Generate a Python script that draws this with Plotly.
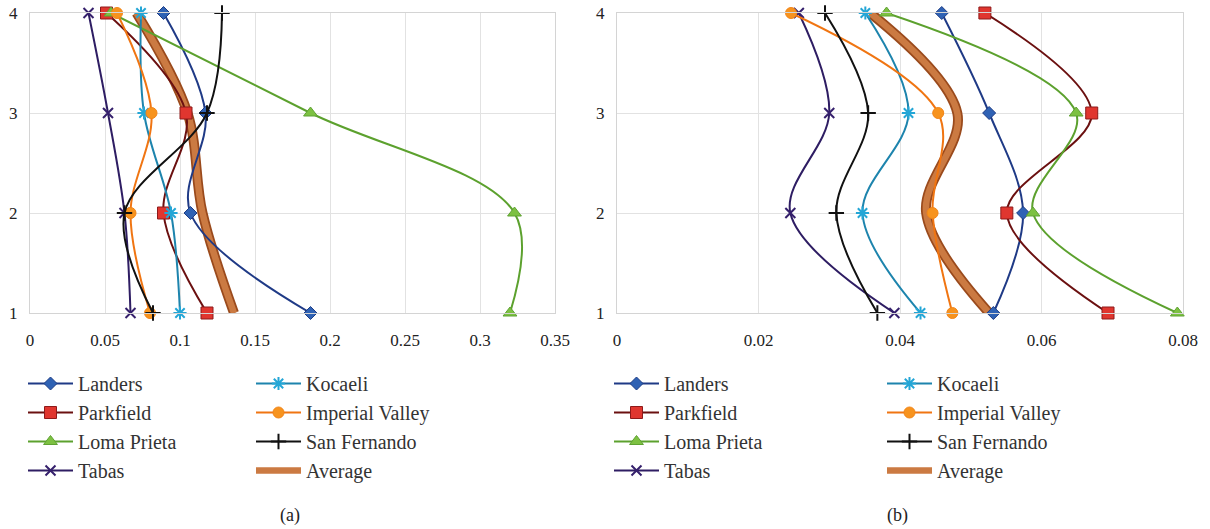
import plotly.graph_objects as go

W, H = 1210, 529
levels = [1, 2, 3, 4]

# ---- (a) values, by level 1..4 ----
a_landers = [0.187, 0.107, 0.117, 0.089]
a_parkfield = [0.118, 0.089, 0.104, 0.051]
a_loma = [0.320, 0.323, 0.187, 0.054]
a_tabas = [0.067, 0.063, 0.052, 0.039]
a_kocaeli = [0.100, 0.094, 0.076, 0.074]
a_imperial = [0.080, 0.067, 0.081, 0.058]
a_sanfernando = [0.082, 0.063, 0.118, 0.128]
a_average = [0.136, 0.115, 0.105, 0.071]

# ---- (b) values, by level 1..4 ----
b_landers = [0.0532, 0.0574, 0.0526, 0.0459]
b_parkfield = [0.0694, 0.0551, 0.0671, 0.0520]
b_loma = [0.0792, 0.0588, 0.0649, 0.0381]
b_tabas = [0.0392, 0.0245, 0.0300, 0.0257]
b_kocaeli = [0.0429, 0.0347, 0.0412, 0.0351]
b_imperial = [0.0474, 0.0446, 0.0454, 0.0246]
b_sanfernando = [0.0368, 0.0310, 0.0355, 0.0294]
b_average = [0.0526, 0.0437, 0.0481, 0.0358]

a_xticks = [0, 0.05, 0.1, 0.15, 0.2, 0.25, 0.3, 0.35]
a_xlabels = ["0", "0.05", "0.1", "0.15", "0.2", "0.25", "0.3", "0.35"]
b_xticks = [0, 0.02, 0.04, 0.06, 0.08]
b_xlabels = ["0", "0.02", "0.04", "0.06", "0.08"]

styles = {
    "Landers": dict(symbol="diamond", size=10, fill="#2F62B4", edge="#1D3C85", line="#1F3A86", col=1, rank=1),
    "Parkfield": dict(symbol="square", size=12, fill="#E0362F", edge="#8E1A1A", line="#6B1010", col=1, rank=2),
    "Loma Prieta": dict(symbol="triangle-up", size=12, fill="#7DC142", edge="#5FA232", line="#5CA12E", col=1, rank=3),
    "Tabas": dict(symbol="x-thin", size=10, fill="#35206C", edge="#35206C", line="#2E1D63", col=1, rank=4),
    "Kocaeli": dict(symbol="asterisk", size=11, fill="#24A6D6", edge="#24A6D6", line="#1D84AD", col=2, rank=5),
    "Imperial Valley": dict(symbol="circle", size=11, fill="#F7931E", edge="#F28518", line="#F07512", col=2, rank=6),
    "San Fernando": dict(symbol="cross-thin", size=11, fill="#111111", edge="#111111", line="#111111", col=2, rank=7),
}

a_series = {"Landers": a_landers, "Parkfield": a_parkfield, "Loma Prieta": a_loma, "Tabas": a_tabas,
            "Kocaeli": a_kocaeli, "Imperial Valley": a_imperial, "San Fernando": a_sanfernando}
b_series = {"Landers": b_landers, "Parkfield": b_parkfield, "Loma Prieta": b_loma, "Tabas": b_tabas,
            "Kocaeli": b_kocaeli, "Imperial Valley": b_imperial, "San Fernando": b_sanfernando}

fig = go.Figure()

def add_panel(series, average, xa, ya, leg1, leg2):
    fig.add_trace(go.Scatter(x=average, y=levels, xaxis=xa, yaxis=ya, mode="lines",
                             line=dict(color="#9A4A1C", width=10, shape="spline"),
                             showlegend=False, hoverinfo="skip", cliponaxis=False))
    fig.add_trace(go.Scatter(x=average, y=levels, xaxis=xa, yaxis=ya, mode="lines", name="Average",
                             line=dict(color="#CB7A42", width=6.5, shape="spline"),
                             legend=leg2, legendrank=8, legendgroup=leg2 + "avg", cliponaxis=False))
    for name, vals in series.items():
        s = styles[name]
        open_sym = s["symbol"] in ("x-thin", "asterisk", "cross-thin")
        marker = dict(symbol=s["symbol"], size=s["size"], color=s["fill"],
                      line=dict(color=s["edge"], width=2 if open_sym else 1))
        fig.add_trace(go.Scatter(x=vals, y=levels, xaxis=xa, yaxis=ya, mode="lines+markers", name=name,
                                 line=dict(color=s["line"], width=2, shape="spline"), marker=marker,
                                 legend=leg1 if s["col"] == 1 else leg2, legendrank=s["rank"],
                                 legendgroup=(leg1 if s["col"] == 1 else leg2) + name, cliponaxis=False))

add_panel(a_series, a_average, "x", "y", "legend", "legend2")
add_panel(b_series, b_average, "x2", "y2", "legend3", "legend4")

font = "'Liberation Serif', 'DejaVu Serif', serif"
ytop = 1 - 13 / H
ybot = 1 - 313 / H
axis_common = dict(showgrid=True, gridcolor="#E2E2E2", gridwidth=1, zeroline=False,
                   showline=True, linecolor="#D4D4D4", mirror=True, automargin=False,
                   tickfont=dict(family=font, size=17, color="#222222"))

fig.update_layout(
    template="none",
    width=W, height=H, margin=dict(l=0, r=0, t=0, b=0, autoexpand=False),
    paper_bgcolor="white", plot_bgcolor="white",
    font=dict(family=font, color="#222222"),
    xaxis=dict(domain=[30 / W, 555 / W], range=[0, 0.35], tickvals=a_xticks, ticktext=a_xlabels,
               anchor="y", ticks="outside", ticklen=12, tickcolor="rgba(0,0,0,0)", **axis_common),
    yaxis=dict(domain=[ybot, ytop], range=[1, 4], tickvals=levels, anchor="x",
               ticks="outside", ticklen=8, tickcolor="rgba(0,0,0,0)", **axis_common),
    xaxis2=dict(domain=[617 / W, 1183 / W], range=[0, 0.08], tickvals=b_xticks, ticktext=b_xlabels,
                anchor="y2", ticks="outside", ticklen=12, tickcolor="rgba(0,0,0,0)", **axis_common),
    yaxis2=dict(domain=[ybot, ytop], range=[1, 4], tickvals=levels, anchor="x2",
                ticks="outside", ticklen=8, tickcolor="rgba(0,0,0,0)", **axis_common),
)

leg_common = dict(orientation="v", yanchor="top", xanchor="left", y=1 - 364 / H,
                  font=dict(family=font, size=20, color="#333333"),
                  bgcolor="rgba(0,0,0,0)", itemwidth=45, tracegroupgap=0)
fig.update_layout(
    legend=dict(x=23 / W, **leg_common),
    legend2=dict(x=251 / W, **leg_common),
    legend3=dict(x=609 / W, **leg_common),
    legend4=dict(x=882 / W, **leg_common),
)

fig.add_annotation(text="(a)", x=290 / W, y=1 - 515 / H, xref="paper", yref="paper",
                   xanchor="center", yanchor="middle",
                   showarrow=False, font=dict(family=font, size=18, color="#222222"))
fig.add_annotation(text="(b)", x=897 / W, y=1 - 515 / H, xref="paper", yref="paper",
                   xanchor="center", yanchor="middle",
                   showarrow=False, font=dict(family=font, size=18, color="#222222"))

fig.write_html("out.html")
